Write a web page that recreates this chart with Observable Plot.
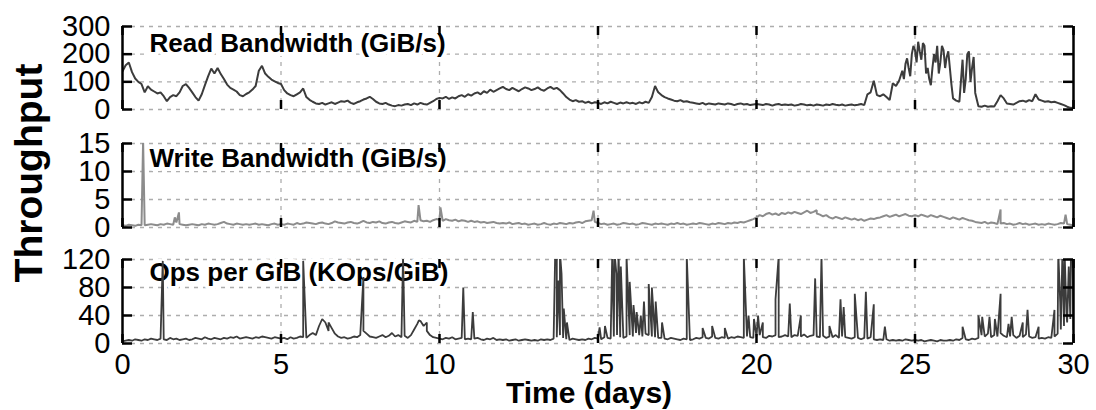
<!DOCTYPE html>
<html><head><meta charset="utf-8">
<script src="https://cdn.jsdelivr.net/npm/d3@7"></script>
<script src="https://cdn.jsdelivr.net/npm/@observablehq/plot@0.6"></script>
<style>
body{margin:0;background:#fff;}
#chart{position:relative;width:1096px;height:410px;overflow:hidden;font-family:"Liberation Sans",Arial,sans-serif;}
#chart svg{position:absolute;left:0;top:0;}
.lab{position:absolute;font-weight:bold;white-space:nowrap;line-height:1;color:#000;}
</style></head><body><div id="chart"></div>
<script>
// ---- data ----
const xTicks = [0, 5, 10, 15, 20, 25, 30];
const step = 0.1; // sampling interval (days)

const readTicks = [0, 100, 200, 300];
const readVals = [
138,160,170,135,112,100,92,62,84,72,
65,58,62,48,30,45,52,48,62,85,
92,78,62,45,32,55,88,120,148,130,
150,128,110,90,78,72,65,52,48,56,
62,72,85,140,158,130,118,108,102,96,
92,70,58,52,48,55,62,76,45,35,
28,22,20,24,18,22,26,20,25,30,
28,32,24,20,26,30,36,40,46,38,
28,22,20,24,18,14,12,16,14,18,
20,16,22,18,24,20,18,24,30,38,
42,40,46,38,44,40,48,52,46,55,
50,58,62,55,66,60,72,64,70,76,
82,74,70,78,72,66,74,80,76,70,
74,80,72,68,76,82,74,78,70,58,
45,36,30,34,28,30,24,28,22,26,
24,20,26,22,28,24,20,25,22,26,
22,24,20,26,22,28,24,45,85,62,
52,45,40,36,32,30,34,28,30,26,
24,22,20,24,18,22,20,18,22,20,
18,22,20,16,20,22,18,20,16,18,
20,18,16,20,18,14,18,20,16,18,
16,18,14,16,20,18,15,17,14,18,
16,14,18,16,20,17,15,18,14,16,
18,15,17,20,16,55,62,104,52,48,
55,45,34,95,85,105,140,165,150,200,
215,245,180,230,150,88,200,230,170,215,
190,150,40,32,28,180,110,210,150,60,
12,10,14,10,12,11,30,52,40,22,
20,18,24,30,32,28,34,30,55,36,
32,28,30,26,28,24,20,16,10,6,
5];
// extra readings in the dense, jagged stretch around day 24.5-27
const readExtraDays = [24.65, 24.75, 24.85, 24.95, 25.05, 25.15, 25.25, 25.35, 25.45, 25.55, 25.65, 25.75, 25.85, 25.95, 26.05, 26.15, 26.55, 26.65, 26.75, 26.85];
const readExtraVals = [110, 185, 120, 230, 170, 210, 240, 130, 110, 150, 170, 130, 230, 150, 210, 90, 60, 200, 100, 190];

const writeTicks = [0, 5, 10, 15];
const writeVals = [
.4,.3,.5,.4,.3,.5,.4,.4,.5,.6,
.5,.4,.6,.5,.7,.6,.5,.9,.6,.5,
.4,.5,.6,.5,.4,.6,.5,.7,.6,.5,
.6,.8,1.0,.7,.6,.5,.7,.6,.5,.6,
.5,.6,.7,.5,.6,.5,.4,.6,.7,.5,
.6,.5,.7,.6,.5,.8,.6,.7,.9,.8,
.7,.6,.8,.9,.7,.6,.8,1.1,.9,.8,
.7,.9,1.0,.8,.7,.9,1.2,.9,.8,1.0,
.9,1.1,.8,.7,.9,1.0,.8,.7,.9,1.1,
1.0,.9,1.2,1.0,1.3,1.1,1.2,1.0,1.3,1.5,
1.4,1.2,1.5,1.3,1.2,1.4,1.1,1.3,1.2,1.0,
1.2,1.0,1.1,.9,1.0,.8,.9,1.0,.8,.7,
.8,.7,.9,.6,.7,.8,.6,.7,.5,.6,
.7,.5,.6,.8,.6,.5,.7,.6,.8,.7,
.6,.8,.7,.9,1.0,.8,1.1,1.2,1.3,1.0,
.8,.6,.7,.5,.6,.7,.5,.6,.8,.7,
.6,.7,.5,.6,.8,.7,.6,.5,.7,.6,
.7,.6,.5,.7,.6,.8,.6,.7,.5,.6,
.7,.6,.8,.7,.6,.5,.7,.6,.8,.7,
.6,.8,.7,.9,.8,1.0,.9,1.1,1.3,1.5,
1.8,2.2,2.0,2.4,2.6,2.3,2.5,2.2,2.6,2.4,
2.7,2.5,2.8,2.6,2.4,2.7,3.0,2.6,2.8,2.5,
2.3,2.0,2.2,1.8,1.6,1.9,1.7,1.5,1.8,1.6,
1.4,1.6,1.3,1.5,1.2,1.4,1.6,1.5,1.7,1.8,
2.0,2.2,1.9,2.1,2.3,2.0,2.2,2.4,2.1,2.0,
2.2,2.0,2.3,2.1,1.9,2.2,2.0,1.8,2.1,1.9,
1.7,1.5,1.8,1.6,1.4,1.7,1.5,1.3,1.2,1.0,
.9,.8,1.0,.7,.9,.8,.6,.7,.8,.6,
.7,.5,.6,.8,.6,.7,.5,.6,.7,.5,
.6,.5,.7,.6,.5,.6,.8,.7,.6,.5,
.4];
const writeSpikeDays = [0.65, 1.65, 1.78, 9.34, 10.03, 14.86, 21.9, 27.7, 29.75];
const writeSpikeVals = [15.5, 1.8, 2.7, 4.0, 3.6, 3.0, 3.1, 3.2, 2.3];

const opsTicks = [0, 40, 80, 120];
const opsVals = [
3,4,5,4,6,5,4,6,5,7,
6,5,7,6,5,8,6,7,5,6,
7,5,6,8,7,6,9,7,6,8,
7,6,8,7,9,8,10,7,8,9,
8,7,9,8,10,9,8,7,9,8,
7,8,6,9,7,8,10,9,8,12,
15,12,25,35,30,18,22,14,10,8,
9,7,8,10,9,12,18,14,10,9,
8,10,12,9,11,15,10,12,9,11,
8,12,20,28,32,25,18,12,9,8,
7,6,8,7,9,6,7,8,6,7,
6,7,8,6,5,7,6,8,5,6,
5,6,4,5,6,4,5,6,5,4,
5,4,6,5,6,5,7,9,12,8,
6,5,7,6,5,6,5,7,6,8,
7,6,9,8,7,10,12,9,8,10,
12,10,15,12,10,14,12,10,9,8,
8,7,6,8,7,6,5,7,6,5,
6,8,7,9,8,7,10,8,7,9,
8,7,9,8,10,9,8,10,9,8,
10,12,9,8,11,10,12,9,10,12,
10,9,12,11,10,13,9,11,12,10,
9,11,8,10,9,12,8,10,9,8,
7,9,8,6,8,7,9,6,5,6,
5,6,4,5,4,5,4,6,5,4,
5,4,5,3,4,5,4,3,5,4,
4,5,4,6,5,8,6,5,7,6,
8,12,10,14,9,12,10,15,11,9,
10,12,8,11,9,13,10,8,9,7,
8,7,9,8,10,14,20,25,30,35,
20];
const opsSpikeDays = [1.27, 5.7, 6.3, 6.5, 7.6, 8.85, 9.35, 9.6, 10.75, 11.05,
 13.65, 13.7, 13.75, 13.8, 13.85, 13.92, 14.02, 15.05, 15.22, 15.45, 15.52, 15.58, 15.65, 15.72, 15.9, 16.0, 16.12, 16.22, 16.35, 16.45, 16.6, 16.7, 16.82, 17.02,
 17.8, 18.3, 18.6, 19.0, 19.6, 19.75, 19.92, 20.05, 20.2, 20.6, 20.7, 21.05, 21.4, 21.85, 22.05, 22.3, 22.65, 22.75, 23.1, 23.45, 23.7, 24.05,
 26.5, 27.0, 27.12, 27.35, 27.52, 27.7, 27.95, 28.05, 28.4, 28.55, 28.9, 29.4, 29.52, 29.58, 29.65, 29.72, 29.78, 29.85, 29.92, 29.97];
const opsSpikeVals = [118, 118, 35, 30, 95, 125, 33, 30, 80, 45,
 130, 125, 90, 130, 100, 50, 30, 23, 25, 130, 130, 100, 130, 110, 125, 88, 55, 45, 40, 60, 85, 80, 60, 30,
 125, 22, 25, 22, 125, 40, 35, 40, 30, 63, 125, 57, 40, 93, 125, 25, 63, 52, 71, 74, 56, 24,
 24, 40, 38, 38, 35, 71, 28, 38, 30, 48, 24, 48, 130, 60, 130, 130, 40, 110, 130, 130];

// ---- build tables ----
function series(vals, extraDays = [], extraVals = []) {
  const pts = vals.map((v, i) => ({day: i * step, v}));
  extraDays.forEach((d, i) => pts.push({day: d, v: extraVals[i]}));
  return pts.sort((a, b) => a.day - b.day);
}
const readData = series(readVals, readExtraDays, readExtraVals);
const writeData = series(writeVals, writeSpikeDays, writeSpikeVals);
const opsData = series(opsVals, opsSpikeDays, opsSpikeVals);

// ---- drawing ----
const W = 1096, H = 410, ML = 122, MR = 23;
const chart = document.getElementById("chart");

function panel({data, yTicks, title, color, lineWidth, mt, mb, titleDy, bottomAxis}) {
  const innerW = W - ML - MR, innerH = H - mt - mb;
  const tickStyle = {stroke: "black", strokeWidth: 2.5};
  const gridStyle = {stroke: "#adadad", strokeOpacity: 1, strokeWidth: 1.3, strokeDasharray: "4,5"};
  const marks = [
    Plot.gridY(yTicks, gridStyle),
    Plot.gridX([5, 10, 15, 20, 25], gridStyle),
    Plot.text([title], {text: d => d, frameAnchor: "top-left", dx: 27, dy: titleDy, lineAnchor: "top", textAnchor: "start",
      fontSize: 26, fontWeight: "bold", fill: "white", stroke: "white", strokeWidth: 8, strokeLinejoin: "round"}),
    Plot.text([title], {text: d => d, frameAnchor: "top-left", dx: 27, dy: titleDy, lineAnchor: "top", textAnchor: "start",
      fontSize: 26, fontWeight: "bold", fill: "black"}),
    Plot.line(data, {x: "day", y: "v", stroke: color, strokeWidth: lineWidth, strokeLinejoin: "miter", clip: true}),
    Plot.ruleX([0, 30], tickStyle),
    Plot.tickY(yTicks, {y: d => d, insetRight: innerW - 10, ...tickStyle}),
    Plot.tickY(yTicks, {y: d => d, insetLeft: innerW - 10, ...tickStyle}),
    Plot.tickX(xTicks, {x: d => d, insetBottom: innerH - 9, ...tickStyle}),
    Plot.tickX(xTicks, {x: d => d, insetTop: innerH - 9, ...tickStyle}),
    Plot.axisY(yTicks, {anchor: "left", tickSize: 0, tickPadding: 12, fontSize: 29, label: null})
  ];
  if (bottomAxis) marks.push(Plot.axisX(xTicks, {anchor: "bottom", tickSize: 0, tickPadding: 10, fontSize: 29, label: null}));
  const svg = Plot.plot({
    width: W, height: H,
    marginLeft: ML, marginRight: MR, marginTop: mt, marginBottom: mb,
    style: {fontFamily: "Liberation Sans, Arial, sans-serif", background: "transparent", overflow: "visible"},
    x: {domain: [0, 30], axis: bottomAxis ? undefined : null},
    y: {domain: [yTicks[0], yTicks[yTicks.length - 1]]},
    marks
  });
  chart.appendChild(svg);
}

panel({data: readData, yTicks: readTicks, title: "Read Bandwidth (GiB/s)", color: "#3c3c3c", lineWidth: 2, mt: 26, mb: H - 109, titleDy: 7});
panel({data: writeData, yTicks: writeTicks, title: "Write Bandwidth (GiB/s)", color: "#8c8c8c", lineWidth: 2, mt: 143, mb: H - 227, titleDy: 5});
panel({data: opsData, yTicks: opsTicks, title: "Ops per GiB (KOps/GiB)", color: "#3c3c3c", lineWidth: 1.8, mt: 259, mb: H - 343, titleDy: 3, bottomAxis: true});

// axis titles
const yl = document.createElement("div");
yl.className = "lab"; yl.textContent = "Throughput";
yl.style.cssText = "left:28px;top:173px;font-size:39px;transform:translate(-50%,-50%) rotate(-90deg);";
chart.appendChild(yl);
const xl = document.createElement("div");
xl.className = "lab"; xl.textContent = "Time (days)";
xl.style.cssText = "left:589px;top:393px;font-size:30px;transform:translate(-50%,-50%);";
chart.appendChild(xl);
</script></body></html>
